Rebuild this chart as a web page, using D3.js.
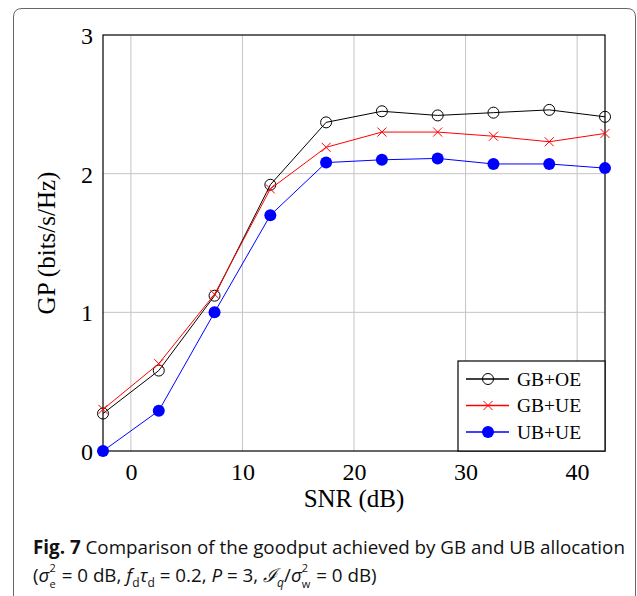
<!DOCTYPE html>
<html lang="en">
<head>
<meta charset="UTF-8">
<title>Goodput GB vs UB</title>
<style>
  body { margin: 0; background: #fff; }
  .tick text { font-family: "Liberation Serif", serif; }
  text { white-space: pre; }
</style>
</head>
<body>
<div id="chart"></div>
<script src="https://d3js.org/d3.v7.min.js"></script>
<script>
// data
var snr = [-2.5, 2.5, 7.5, 12.5, 17.5, 22.5, 27.5, 32.5, 37.5, 42.5];
var gbOE = [0.27, 0.58, 1.12, 1.92, 2.37, 2.45, 2.42, 2.44, 2.46, 2.41];
var gbUE = [0.30, 0.63, 1.13, 1.89, 2.19, 2.30, 2.30, 2.27, 2.23, 2.29];
var ubUE = [0.00, 0.29, 1.00, 1.70, 2.08, 2.10, 2.11, 2.07, 2.07, 2.04];
var xTicks = [0, 10, 20, 30, 40];
var yTicks = [0, 1, 2, 3];
var seriesNames = ["GB+OE", "GB+UE", "UB+UE"];

var W = 637, H = 596;
var margin = {top: 35, right: 32, bottom: 145, left: 103},
    width = W - margin.left - margin.right,
    height = H - margin.top - margin.bottom;

var svg = d3.select("#chart").append("svg")
    .attr("width", W).attr("height", H);

// outer figure frame
svg.append("path")
    .attr("d", "M13.5,600 L13.5,17 Q13.5,8.5 22,8.5 L627,8.5 Q635.5,8.5 635.5,17 L635.5,600")
    .attr("fill", "none").attr("stroke", "#666").attr("stroke-width", 1);

var g = svg.append("g")
    .attr("transform", "translate(" + margin.left + "," + margin.top + ")");

var x = d3.scaleLinear().domain([-2.5, 42.5]).range([0, width]);
var y = d3.scaleLinear().domain([0, 3]).range([height, 0]);

// grid
g.append("g").selectAll("line").data(xTicks).enter().append("line")
    .attr("x1", d => x(d)).attr("x2", d => x(d))
    .attr("y1", 0).attr("y2", height)
    .attr("stroke", "#c4c4c4").attr("stroke-width", 1);
g.append("g").selectAll("line").data(yTicks.slice(1, 3)).enter().append("line")
    .attr("x1", 0).attr("x2", width)
    .attr("y1", d => y(d)).attr("y2", d => y(d))
    .attr("stroke", "#c4c4c4").attr("stroke-width", 1);

// axes (labels only, frame drawn separately)
var xAxis = g.append("g")
    .attr("transform", "translate(0," + height + ")")
    .call(d3.axisBottom(x).tickValues(xTicks).tickSize(0).tickPadding(12).tickFormat(d3.format("d")));
xAxis.select(".domain").remove();
xAxis.selectAll("text").attr("font-size", 24).attr("fill", "#000");

var yAxis = g.append("g")
    .call(d3.axisLeft(y).tickValues(yTicks).tickSize(0).tickPadding(10).tickFormat(d3.format("d")));
yAxis.select(".domain").remove();
yAxis.selectAll("text").attr("font-size", 24).attr("fill", "#000").attr("dy", "0.35em");

g.append("rect")
    .attr("x", 0).attr("y", 0).attr("width", width).attr("height", height)
    .attr("fill", "none").attr("stroke", "#000").attr("stroke-width", 1.2);

// axis titles
g.append("text")
    .attr("x", x(20)).attr("y", height + 56)
    .attr("text-anchor", "middle")
    .attr("font-family", "Liberation Serif, serif").attr("font-size", 25)
    .text("SNR (dB)");
g.append("text")
    .attr("transform", "translate(" + (-48) + "," + (height / 2) + ") rotate(-90)")
    .attr("text-anchor", "middle")
    .attr("font-family", "Liberation Serif, serif").attr("font-size", 25)
    .text("GP (bits/s/Hz)");

var line = d3.line().x(d => x(d[0])).y(d => y(d[1]));
function pts(vals) { return snr.map((s, i) => [s, vals[i]]); }

function drawMarker(sel, kind, color) {
  if (kind === "o") {
    sel.append("circle").attr("r", 5.5).attr("fill", "none")
      .attr("stroke", color).attr("stroke-width", 1);
  } else if (kind === "x") {
    sel.append("path").attr("d", "M-4.5,-4.5L4.5,4.5M-4.5,4.5L4.5,-4.5")
      .attr("stroke", color).attr("stroke-width", 1);
  } else {
    sel.append("circle").attr("r", 6).attr("fill", color);
  }
}

var series = [
  {name: seriesNames[0], vals: gbOE, color: "#000", mark: "o"},
  {name: seriesNames[1], vals: gbUE, color: "#ff0000", mark: "x"},
  {name: seriesNames[2], vals: ubUE, color: "#0000ff", mark: "dot"}
];

series.forEach(function(s) {
  g.append("path").datum(pts(s.vals))
    .attr("d", line).attr("fill", "none")
    .attr("stroke", s.color).attr("stroke-width", 1);
  g.append("g").selectAll("g").data(pts(s.vals)).enter().append("g")
    .attr("transform", d => "translate(" + x(d[0]) + "," + y(d[1]) + ")")
    .each(function() { drawMarker(d3.select(this), s.mark, s.color); });
});

// legend
var lg = g.append("g").attr("transform", "translate(" + (width - 147) + "," + (height - 90) + ")");
lg.append("rect").attr("width", 147).attr("height", 90)
  .attr("fill", "#fff").attr("stroke", "#000").attr("stroke-width", 1.2);
series.forEach(function(s, i) {
  var row = lg.append("g").attr("transform", "translate(0," + (18 + i * 26.5) + ")");
  row.append("line").attr("x1", 8).attr("x2", 51)
    .attr("stroke", s.color).attr("stroke-width", 1.5);
  var m = row.append("g").attr("transform", "translate(30,0)");
  drawMarker(m, s.mark, s.color);
  row.append("text").attr("x", 59).attr("dy", "0.35em")
    .attr("font-family", "Liberation Serif, serif").attr("font-size", 19.5)
    .text(s.name);
});

// caption
var cap = svg.append("g").attr("font-family", "Open Sans, sans-serif").attr("font-size", 18.8).attr("fill", "#111");
var l1 = cap.append("text").attr("x", 33).attr("y", 554);
l1.append("tspan").attr("font-weight", "bold").text("Fig. 7");
l1.append("tspan").text(" Comparison of the goodput achieved by GB and UB allocation");

// second line: each piece placed one after another, scripts as separate texts
var l2y = 582, cx = 33;
function piece(str, opts) {
  opts = opts || {};
  var t = cap.append("text").attr("x", cx).attr("y", l2y + (opts.dy || 0))
    .attr("font-size", opts.size || 18.8)
    .attr("font-style", opts.italic ? "italic" : "normal")
    .text(str);
  if (opts.family) t.attr("font-family", opts.family);
  var w = t.node().getComputedTextLength();
  if (!opts.noAdvance) cx += w;
  return w;
}
piece("(");
piece("σ", {italic: true});
var w1 = piece("2", {size: 11, dy: -10, noAdvance: true});
cx += Math.max(w1, piece("e", {size: 11, dy: 6, noAdvance: true})) + 1;
piece(" = 0 dB, ");
piece("f", {italic: true});
piece("d", {size: 12, dy: 5});
piece("τ", {italic: true});
piece("d", {size: 12, dy: 5});
piece(" = 0.2, ");
piece("P", {italic: true});
piece(" = 3, ");
piece("ℐ", {italic: true, family: "DejaVu Serif, serif"});
piece("q", {size: 12, dy: 5, italic: true});
piece("/");
piece("σ", {italic: true});
var w2 = piece("2", {size: 11, dy: -10, noAdvance: true});
cx += Math.max(w2, piece("w", {size: 11, dy: 6, noAdvance: true})) + 1;
piece(" = 0 dB)");
</script>
</body>
</html>
